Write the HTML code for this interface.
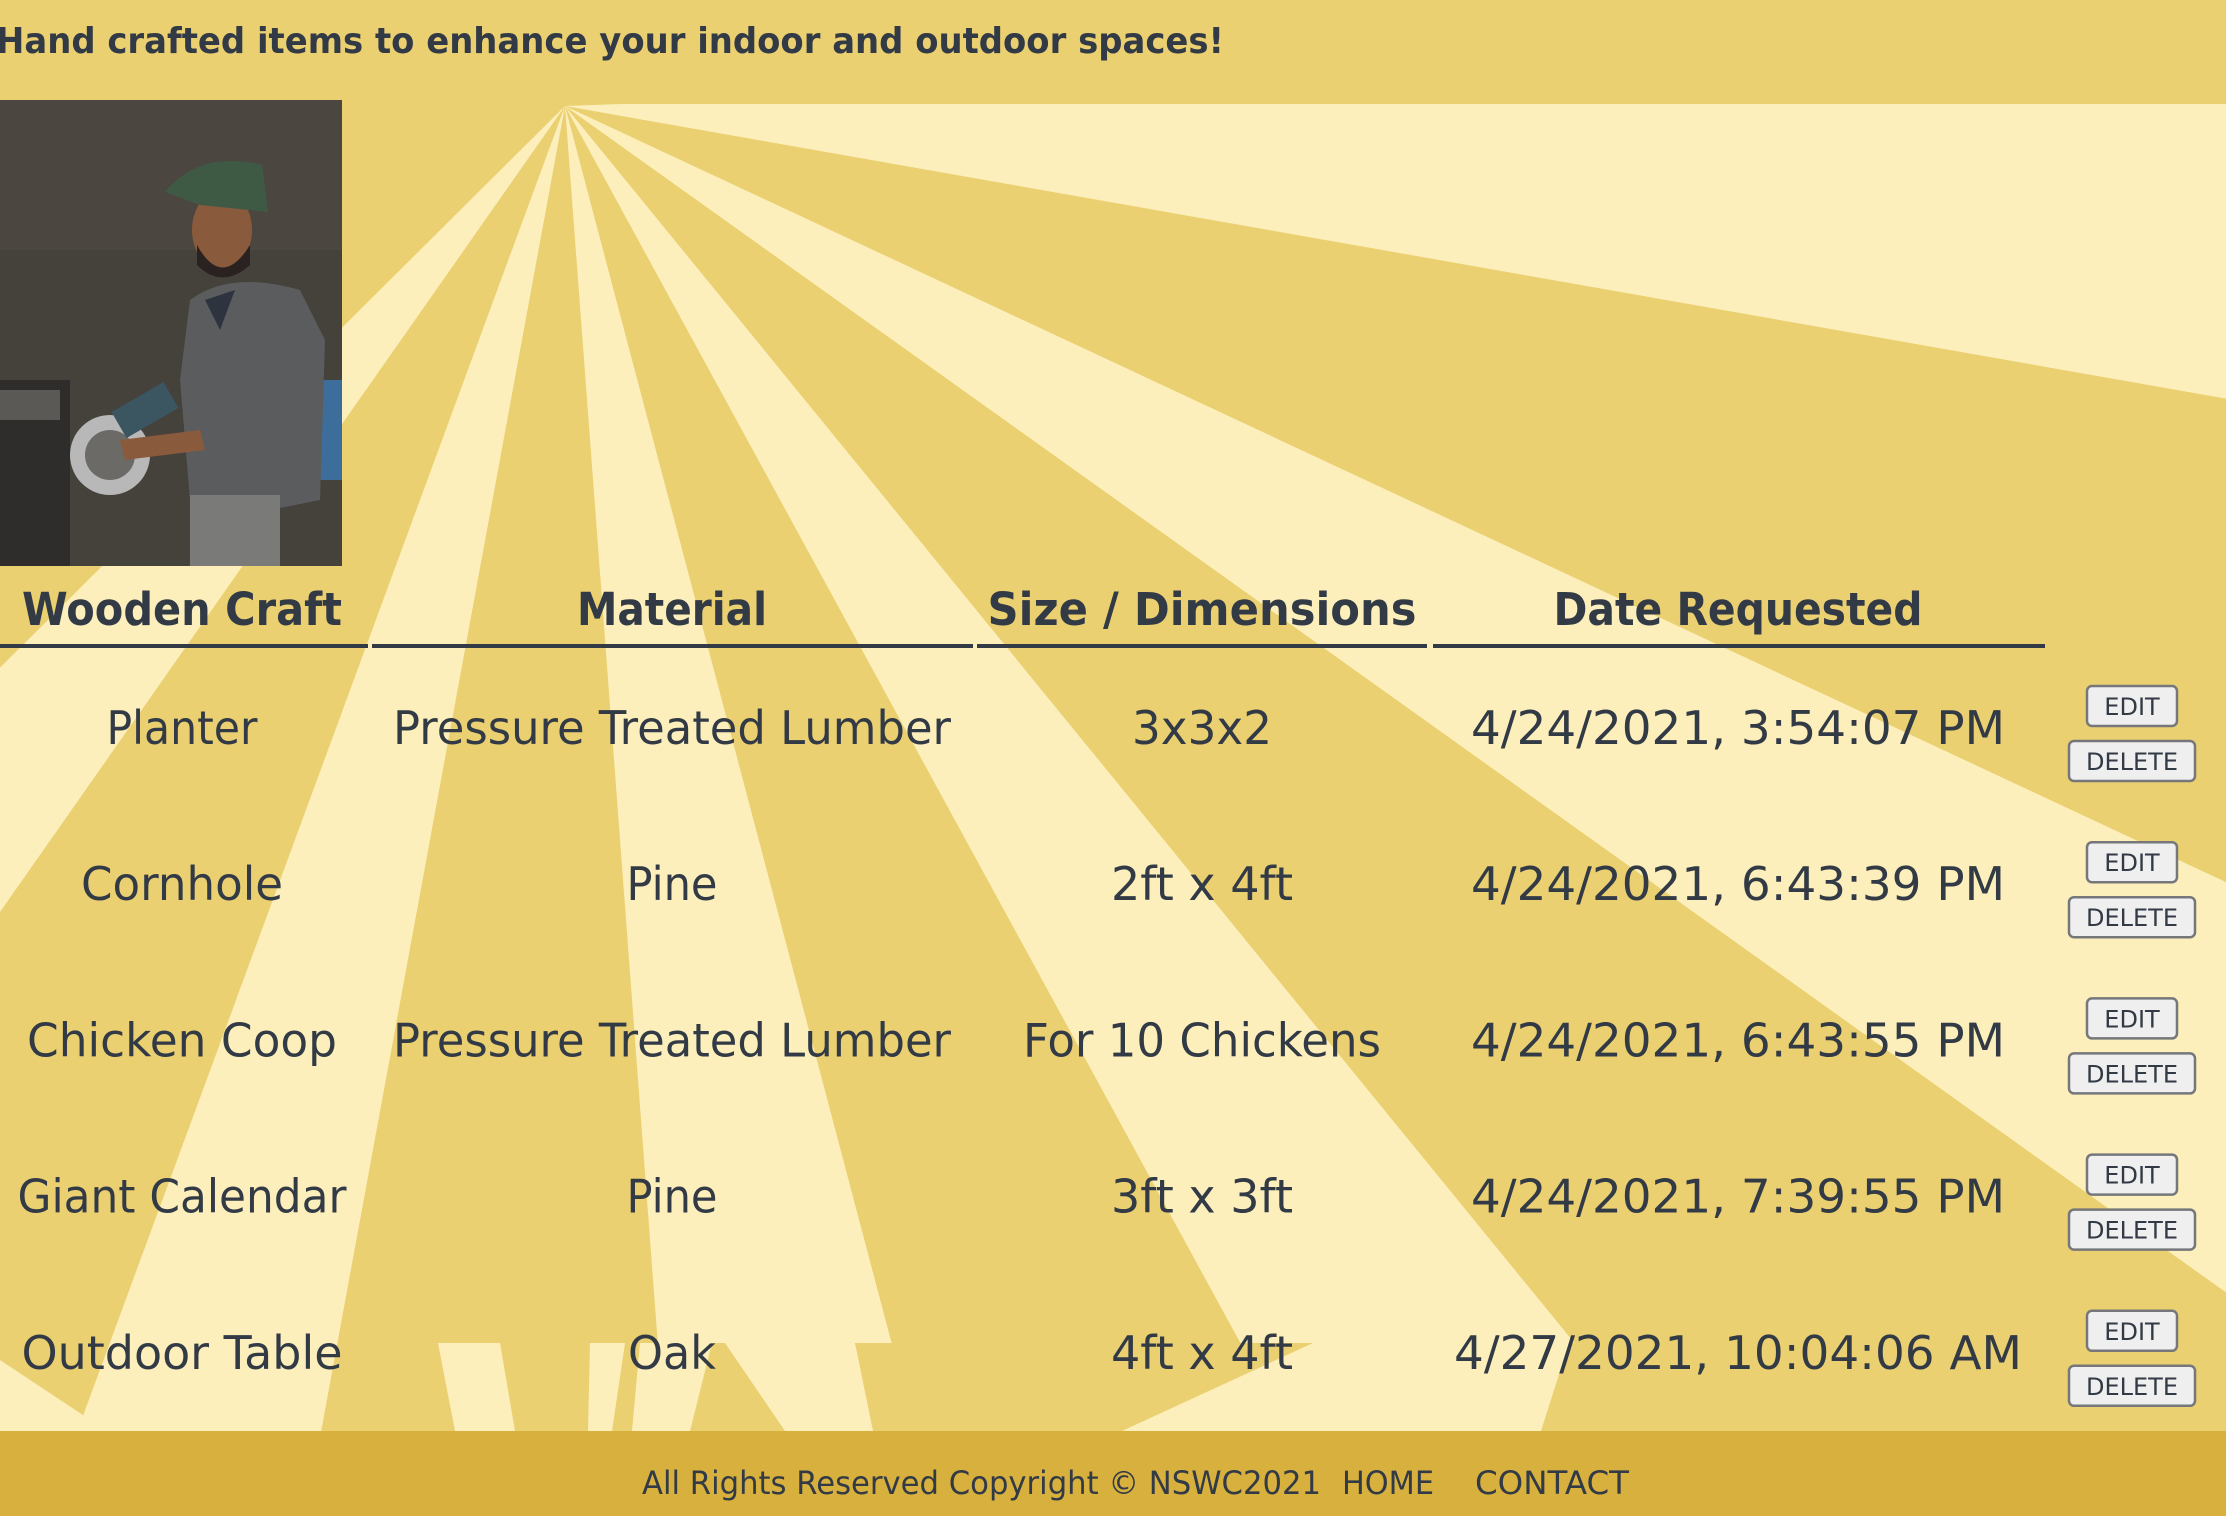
<!DOCTYPE html>
<html><head><meta charset="utf-8"><style>
html,body{margin:0;padding:0;width:2226px;height:1516px;overflow:hidden;background:#ebd072;}
svg{display:block}
</style></head><body>
<svg id="page" width="2226" height="1516" viewBox="0 0 2226 1516" xmlns="http://www.w3.org/2000/svg" font-family="'DejaVu Sans','Liberation Sans',sans-serif" fill="#323a45">
<defs><clipPath id="bgclip"><rect x="0" y="104" width="2226" height="1327"/></clipPath></defs>
<rect x="0" y="0" width="2226" height="1516" fill="#ebd072"/>
<g id="rays" clip-path="url(#bgclip)">
<polygon points="565,106 3000,20 3000,535" fill="#fcefbb"/>
</g>
<g>
<rect x="433" y="1343" width="1793" height="88" fill="#ebd072"/>
<polygon points="438,1343 500,1343 515,1431 455,1431" fill="#fcefbb"/>
<polygon points="590,1343 625,1343 612,1431 588,1431" fill="#fcefbb"/>
<polygon points="640,1343 712,1343 690,1431 632,1431" fill="#fcefbb"/>
<polygon points="725,1343 855,1343 873,1431 785,1431" fill="#fcefbb"/>
<polygon points="1313,1343 1569,1343 1541,1431 1122,1431" fill="#fcefbb"/>
<polygon points="0,1360 0,1431 107,1431" fill="#fcefbb"/>
</g>
<rect x="0" y="0" width="2226" height="104" fill="#ebd072"/>
<text x="-4" y="53" font-size="36" font-weight="bold" textLength="1228" lengthAdjust="spacingAndGlyphs">Hand crafted items to enhance your indoor and outdoor spaces!</text>

<g>
<rect x="0" y="100" width="342" height="466" fill="#45413b"/>
<rect x="0" y="100" width="342" height="150" fill="#4b4740"/>
<rect x="0" y="380" width="70" height="186" fill="#2e2d2b"/>
<rect x="0" y="390" width="60" height="30" fill="#5a5955"/>
<rect x="310" y="380" width="32" height="100" fill="#3d6d9a"/>
<path d="M190,300 Q230,270 300,290 L325,340 L320,500 L270,510 L190,500 L180,380 Z" fill="#5b5c5d"/>
<path d="M205,300 L235,290 L220,330 Z" fill="#2d3440"/>
<rect x="190" y="495" width="90" height="71" fill="#7a7a78"/>
<ellipse cx="222" cy="230" rx="30" ry="40" fill="#8a5a3c"/>
<path d="M197,245 Q222,290 250,245 L250,265 Q222,290 197,265 Z" fill="#2a2220"/>
<path d="M165,192 Q200,150 262,165 L268,212 L200,205 Z" fill="#3f5a44"/>
<circle cx="110" cy="455" r="40" fill="#b8b8b8"/>
<circle cx="110" cy="455" r="25" fill="#6b6a66"/>
<rect x="115" y="395" width="60" height="30" fill="#3b5561" transform="rotate(-30 145 410)"/>
<path d="M120,440 L200,430 L205,450 L125,460 Z" fill="#8a5a3c"/>
</g>

<g font-weight="bold" font-size="45" text-anchor="middle">
<text x="182" y="625" textLength="320" lengthAdjust="spacingAndGlyphs">Wooden Craft</text>
<text x="672" y="625" textLength="190" lengthAdjust="spacingAndGlyphs">Material</text>
<text x="1202" y="625" textLength="429" lengthAdjust="spacingAndGlyphs">Size / Dimensions</text>
<text x="1738" y="625" textLength="369" lengthAdjust="spacingAndGlyphs">Date Requested</text>
<rect x="0" y="644" width="368" height="4"/>
<rect x="372" y="644" width="601" height="4"/>
<rect x="977" y="644" width="450" height="4"/>
<rect x="1433" y="644" width="612" height="4"/>
</g>
<g id="rows" font-size="46" text-anchor="middle"></g>

<rect x="0" y="1431" width="2226" height="85" fill="#d8b03e"/>
<g font-size="32">
<text x="642" y="1494" textLength="679" lengthAdjust="spacingAndGlyphs">All Rights Reserved Copyright © NSWC2021</text>
<text x="1342" y="1494" textLength="92" lengthAdjust="spacingAndGlyphs">HOME</text>
<text x="1475" y="1494" textLength="154" lengthAdjust="spacingAndGlyphs">CONTACT</text>
</g>
</svg>
<script>
const crafts=["Planter","Cornhole","Chicken Coop","Giant Calendar","Outdoor Table"];
const materials=["Pressure Treated Lumber","Pine","Pressure Treated Lumber","Pine","Oak"];
const sizes=["3x3x2","2ft x 4ft","For 10 Chickens","3ft x 3ft","4ft x 4ft"];
const dates=["4/24/2021, 3:54:07 PM","4/24/2021, 6:43:39 PM","4/24/2021, 6:43:55 PM","4/24/2021, 7:39:55 PM","4/27/2021, 10:04:06 AM"];
const NS="http://www.w3.org/2000/svg";
// rays: edge slopes dx/dy from sun center
const rayLeft=[-1.006,-0.368,0.075,0.546,1.40];
const rayRight=[-0.701,-0.184,0.264,0.816,2.14];
const rays=document.getElementById('rays');
const cx=565,cy=106,H=1500;
for(let k=0;k<rayLeft.length;k++){
  const p=document.createElementNS(NS,'polygon');
  p.setAttribute('points',`${cx},${cy} ${cx+rayLeft[k]*H},${cy+H} ${cx+rayRight[k]*H},${cy+H}`);
  p.setAttribute('fill','#fcefbb');
  
  
  rays.appendChild(p);
}
// rows
const rowsG=document.getElementById('rows');
const colX=[182,672,1202,1738];
function addText(str,x,y,w,name){
  const t=document.createElementNS(NS,'text');
  t.setAttribute('x',x);t.setAttribute('y',y);
  t.setAttribute('textLength',w);t.setAttribute('lengthAdjust','spacingAndGlyphs');
  t.textContent=str;
  
  
  rowsG.appendChild(t);
}
const widthFor=s=>({"Planter":151,"Cornhole":202,"Chicken Coop":310,"Giant Calendar":329,"Outdoor Table":321,"Pressure Treated Lumber":558,"Pine":91,"Oak":88,"3x3x2":140,"2ft x 4ft":182,"For 10 Chickens":358,"3ft x 3ft":182,"4ft x 4ft":182}[s]||(s.length>21?568:534));
for(let i=0;i<crafts.length;i++){
  const y=744+i*156.2;
  const vals=[crafts[i],materials[i],sizes[i],dates[i]];
  const names=['cell-craft','cell-material','cell-size','cell-date'];
  vals.forEach((v,j)=>addText(v,colX[j],y,widthFor(v),names[j]));
  const by=686+i*156.2;
  [['EDIT',2087,by,90,'edit-button'],['DELETE',2069,by+55,126,'delete-button']].forEach(b=>{
    const g=document.createElementNS(NS,'g');
    
    
    const r=document.createElementNS(NS,'rect');
    r.setAttribute('x',b[1]);r.setAttribute('y',b[2]);r.setAttribute('width',b[3]);r.setAttribute('height',40);
    r.setAttribute('rx',5);r.setAttribute('fill','#efefef');r.setAttribute('stroke','#76777a');r.setAttribute('stroke-width',2.5);
    g.appendChild(r);
    const t=document.createElementNS(NS,'text');
    t.setAttribute('x',b[1]+b[3]/2);t.setAttribute('y',b[2]+29);t.setAttribute('font-size',24);
    t.setAttribute('text-anchor','middle');
    t.textContent=b[0];
    g.appendChild(t);
    rowsG.appendChild(g);
  });
}
</script>
</body></html>
